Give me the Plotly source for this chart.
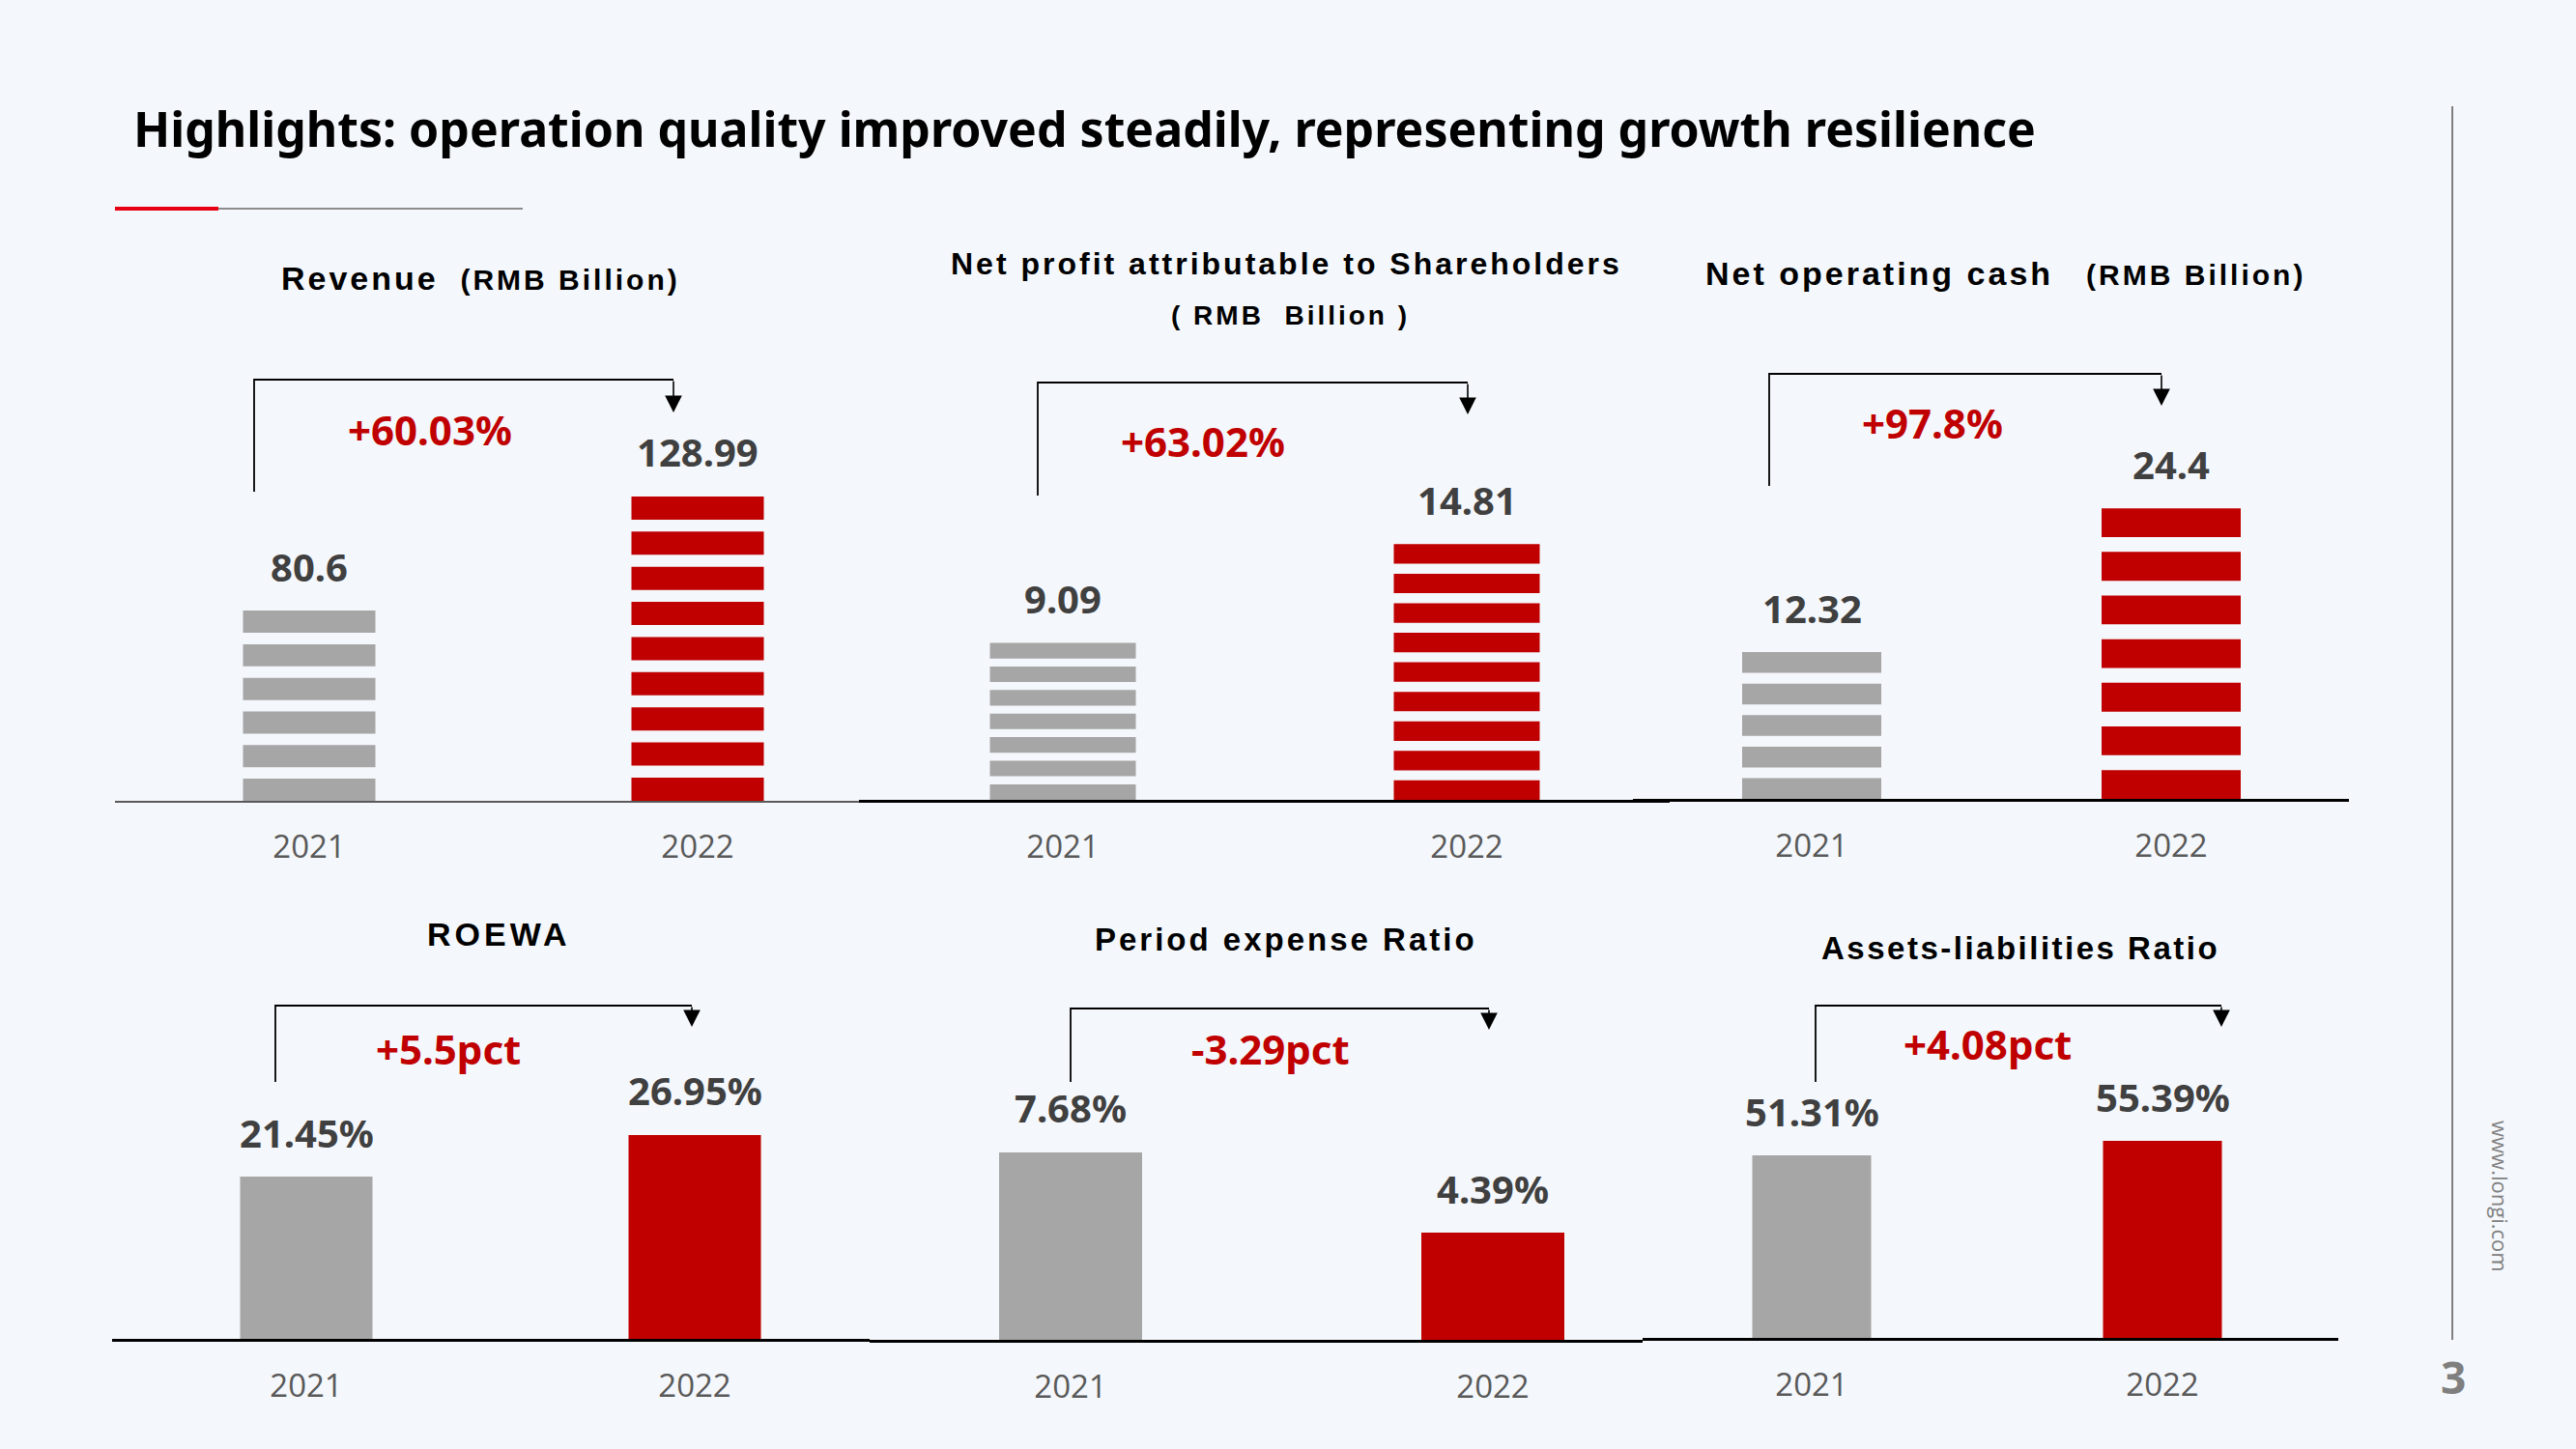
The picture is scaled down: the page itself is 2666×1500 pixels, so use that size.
import plotly.graph_objects as go

# ---------------- data ----------------
years = ["2021", "2022"]

revenue = [80.6, 128.99]
net_profit = [9.09, 14.81]
net_cash = [12.32, 24.4]
roewa = [21.45, 26.95]
period_expense = [7.68, 4.39]
asset_liab = [51.31, 55.39]

revenue_text = ["80.6", "128.99"]
net_profit_text = ["9.09", "14.81"]
net_cash_text = ["12.32", "24.4"]
roewa_text = ["21.45%", "26.95%"]
period_expense_text = ["7.68%", "4.39%"]
asset_liab_text = ["51.31%", "55.39%"]

change_text = ["+60.03%", "+63.02%", "+97.8%", "+5.5pct", "-3.29pct", "+4.08pct"]

main_title = "Highlights: operation quality improved steadily, representing growth resilience"

# ---------------- style / layout (pixels) ----------------
W, H = 2666, 1500
GRAY, RED, DARK = "#A6A6A6", "#C00000", "#404040"
BG = "#F4F7FB"
STRIPE_FRAC = 0.66

charts = [
    dict(values=revenue, text=revenue_text, xl=119, xr=890, base=829, c1=320, c2=722, bw=137, ppu=2.443,
         stripes=(6, 9), lc="#595959", lw=2, bracket=(263, 509, 393, 697, 427), chg=(445, 445)),
    dict(values=net_profit, text=net_profit_text, xl=889, xr=1728, base=828, c1=1100, c2=1518, bw=151, ppu=17.87,
         stripes=(7, 9), lc="#000000", lw=3, bracket=(1074, 513, 396, 1519, 429), chg=(1245, 457)),
    dict(values=net_cash, text=net_cash_text, xl=1690, xr=2431, base=827, c1=1875, c2=2247, bw=144, ppu=12.33,
         stripes=(5, 7), lc="#000000", lw=3, bracket=(1831, 503, 387, 2237, 420), chg=(2000, 437)),
    dict(values=roewa, text=roewa_text, xl=116, xr=900, base=1386, c1=317, c2=719, bw=137, ppu=7.83,
         stripes=None, lc="#000000", lw=3, bracket=(285, 1120, 1041, 716, 1063), chg=(464, 1085)),
    dict(values=period_expense, text=period_expense_text, xl=900, xr=1700, base=1387, c1=1108, c2=1545, bw=148,
         ppu=25.27, stripes=None, lc="#000000", lw=3, bracket=(1108, 1120, 1044, 1541, 1066), chg=(1315, 1085)),
    dict(values=asset_liab, text=asset_liab_text, xl=1700, xr=2420, base=1385, c1=1875, c2=2238, bw=123, ppu=3.683,
         stripes=None, lc="#000000", lw=3, bracket=(1879, 1120, 1041, 2299, 1063), chg=(2057, 1080)),
]


def px(x):
    return x / W


def py(y):
    return 1 - y / H


def sp(t, size, ls=3):
    return f'<span style="font-size:{size}px;letter-spacing:{ls}px">{t}</span>'


fig = go.Figure()
annotations = []
shapes = []
layout_axes = {}
TITLE_FONT = "Liberation Sans, Arial, sans-serif"
NUM_FONT = "Noto Sans, Open Sans, sans-serif"

for i, ch in enumerate(charts, start=1):
    xa = "x" if i == 1 else f"x{i}"
    ya = "y" if i == 1 else f"y{i}"
    xname = "xaxis" if i == 1 else f"xaxis{i}"
    yname = "yaxis" if i == 1 else f"yaxis{i}"
    span = ch["c2"] - ch["c1"]
    bw = ch["bw"] / span
    colors = [GRAY, RED]
    if ch["stripes"]:
        for k, yr in enumerate(years):
            n = ch["stripes"][k]
            v = ch["values"][k]
            P = v / ((n - 1) + STRIPE_FRAC)
            S = STRIPE_FRAC * P
            fig.add_trace(go.Bar(x=[yr] * n, y=[S] * n, base=[j * P for j in range(n)], width=bw,
                                 marker=dict(color=colors[k], line=dict(width=0)),
                                 xaxis=xa, yaxis=ya, showlegend=False, hoverinfo="skip"))
    else:
        fig.add_trace(go.Bar(x=years, y=ch["values"], width=bw,
                             marker=dict(color=colors, line=dict(width=0)),
                             xaxis=xa, yaxis=ya, showlegend=False, hoverinfo="skip"))
    top_px = 470
    layout_axes[xname] = dict(
        domain=[px(ch["xl"]), px(ch["xr"])],
        range=[-(ch["c1"] - ch["xl"]) / span, 1 + (ch["xr"] - ch["c2"]) / span],
        type="category", categoryorder="array", categoryarray=years,
        showline=True, linecolor=ch["lc"], linewidth=ch["lw"], showgrid=False, zeroline=False,
        ticks="", tickfont=dict(family="Open Sans, sans-serif", size=33, color="#595959"),
        ticklabelstandoff=17, anchor=ya, fixedrange=True,
    )
    layout_axes[yname] = dict(
        domain=[py(ch["base"]), py(ch["base"] - top_px)],
        range=[0, top_px / ch["ppu"]], visible=False, anchor=xa, fixedrange=True,
    )
    # value labels (x given as category index)
    for k, yr in enumerate(years):
        annotations.append(dict(x=k, y=ch["values"][k], xref=xa, yref=ya, text=ch["text"][k],
                                showarrow=False, yshift=46, xanchor="center", yanchor="middle",
                                font=dict(family=NUM_FONT, size=40, color=DARK, weight="bold")))
    # bracket
    vx, yb, yt, ax_, tip = ch["bracket"]
    shapes.append(dict(type="path", xref="paper", yref="paper",
                       path=f"M {px(vx)},{py(yb)} L {px(vx)},{py(yt)} L {px(ax_)},{py(yt)}",
                       line=dict(color="#000000", width=1.8)))
    annotations.append(dict(x=px(ax_), y=py(tip), xref="paper", yref="paper", text="", showarrow=True,
                            ax=0, ay=-(tip - yt), arrowhead=2, arrowsize=2.2, arrowwidth=1.6,
                            arrowcolor="#000000"))
    cx, cy = ch["chg"]
    annotations.append(dict(x=px(cx), y=py(cy), xref="paper", yref="paper", text=change_text[i - 1],
                            showarrow=False, xanchor="center", yanchor="middle",
                            font=dict(family=NUM_FONT, size=42, color=RED, weight="bold")))

# chart titles
titles = [
    (497, 288, sp("Revenue", 34) + sp("\u00a0\u00a0(RMB Billion)", 30)),
    (1331, 273, sp("Net profit attributable to Shareholders", 32)),
    (1335, 327, sp("( RMB \u00a0Billion )", 28)),
    (2075, 283, sp("Net operating cash", 34) + sp("\u00a0\u00a0\u00a0(RMB Billion)", 30)),
    (516, 967, sp("ROEWA", 34, 4)),
    (1331, 972, sp("Period expense Ratio", 33)),
    (2091, 982, sp("Assets-liabilities Ratio", 33, 2.5)),
]
for x, y, t in titles:
    annotations.append(dict(x=px(x), y=py(y), xref="paper", yref="paper", text=t, showarrow=False,
                            xanchor="center", yanchor="middle",
                            font=dict(family=TITLE_FONT, size=33, color="#000000", weight="bold")))

# main title and decorations
annotations.append(dict(x=px(136), y=py(133), xref="paper", yref="paper", text=main_title, showarrow=False,
                        xanchor="left", yanchor="middle",
                        font=dict(family=NUM_FONT, size=50, color="#000000", weight="bold")))
shapes.append(dict(type="line", xref="paper", yref="paper", x0=px(226), x1=px(541), y0=py(216), y1=py(216),
                   line=dict(color="#8C8C8C", width=2)))
shapes.append(dict(type="line", xref="paper", yref="paper", x0=px(119), x1=px(226), y0=py(216), y1=py(216),
                   line=dict(color="#E60012", width=4)))
shapes.append(dict(type="line", xref="paper", yref="paper", x0=px(2538), x1=px(2538), y0=py(110), y1=py(1387),
                   line=dict(color="#7F7F7F", width=2)))
annotations.append(dict(x=px(2539), y=py(1425), xref="paper", yref="paper", text="3", showarrow=False,
                        xanchor="center", yanchor="middle",
                        font=dict(family=NUM_FONT, size=46, color="#7F7F7F", weight="bold")))
annotations.append(dict(x=px(2588), y=py(1238), xref="paper", yref="paper", text="www.longi.com",
                        showarrow=False, textangle=90, xanchor="center", yanchor="middle",
                        font=dict(family="Open Sans, sans-serif", size=22, color="#808080")))

fig.update_layout(
    width=W, height=H, autosize=False, margin=dict(l=0, r=0, t=0, b=0),
    paper_bgcolor=BG, plot_bgcolor="rgba(0,0,0,0)", barmode="overlay",
    annotations=annotations, shapes=shapes, showlegend=False, **layout_axes,
)

fig.write_html("out.html", config=dict(displayModeBar=False))
